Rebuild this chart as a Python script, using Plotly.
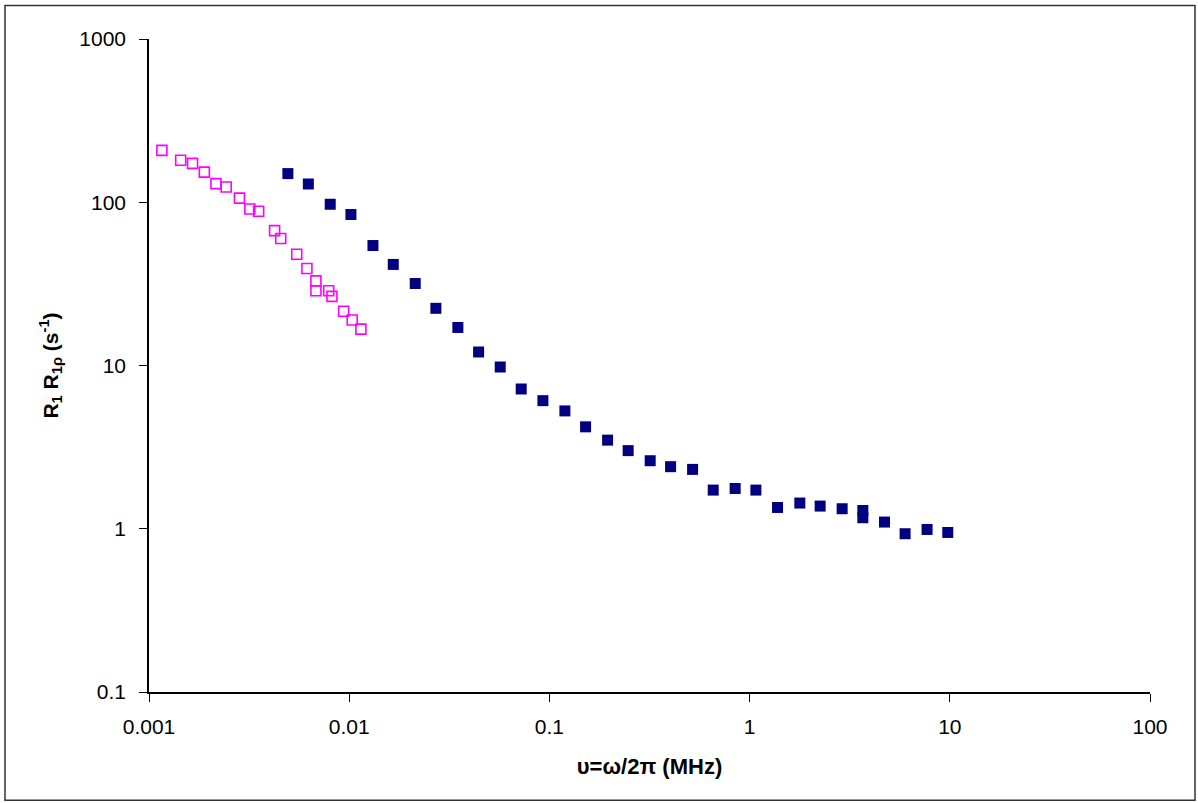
import plotly.graph_objects as go

# Open magenta squares (low-frequency set)
freq_open = [0.00116, 0.00144, 0.00165, 0.00189, 0.00216, 0.00243, 0.00283, 0.00319,
             0.00353, 0.00424, 0.00455, 0.00547, 0.00615, 0.00682, 0.00682, 0.0079,
             0.0082, 0.00938, 0.01035, 0.01144]
rate_open = [208, 181, 173, 153, 130, 124, 106, 91, 88, 67, 60, 48, 39.3, 33.0, 28.7,
             28.7, 26.5, 21.5, 19.0, 16.7]

# Filled navy squares
freq_fill = [0.00494, 0.00625, 0.00804, 0.0102, 0.01314, 0.0166, 0.02137, 0.0271,
             0.0349, 0.0443, 0.0568, 0.0723, 0.0928, 0.1195, 0.1516, 0.1953, 0.2474,
             0.3187, 0.403, 0.519, 0.658, 0.847, 1.075, 1.379, 1.782, 2.251, 2.899,
             3.678, 3.678, 4.72, 5.98, 7.70, 9.77]
rate_fill = [149.8, 129.4, 97.2, 84.1, 54.3, 41.6, 31.8, 22.4, 17.1, 12.1, 9.79, 7.18,
             6.09, 5.27, 4.21, 3.49, 3.01, 2.61, 2.40, 2.31, 1.725, 1.764, 1.725, 1.35,
             1.437, 1.377, 1.326, 1.294, 1.168, 1.099, 0.932, 0.990, 0.949]

x_tickvals = [0.001, 0.01, 0.1, 1, 10, 100]
x_ticktext = ["0.001", "0.01", "0.1", "1", "10", "100"]
y_tickvals = [0.1, 1, 10, 100, 1000]
y_ticktext = ["0.1", "1", "10", "100", "1000"]

FONT = "Arial, 'Liberation Sans', sans-serif"

fig = go.Figure()
fig.add_trace(go.Scatter(
    x=freq_open, y=rate_open, mode="markers",
    marker=dict(symbol="square-open", size=10, color="#FF00FF", line=dict(width=1.6, color="#FF00FF")),
    showlegend=False, cliponaxis=False))
fig.add_trace(go.Scatter(
    x=freq_fill, y=rate_fill, mode="markers",
    marker=dict(symbol="square", size=11, color="#000080", line=dict(width=0)),
    showlegend=False, cliponaxis=False))

W, H = 1198, 803
L, R, T, B = 149, 48, 38.5, 110.5
pw, ph = W - L - R, H - T - B

fig.update_layout(
    width=W, height=H,
    margin=dict(l=L, r=R, t=T, b=B, autoexpand=False),
    paper_bgcolor="white", plot_bgcolor="white",
    font=dict(family=FONT, size=21, color="black"),
    xaxis=dict(type="log", range=[-3, 2], tickvals=x_tickvals, ticktext=x_ticktext,
               showgrid=False, zeroline=False, showline=True, linecolor="black", linewidth=1.5,
               ticks="outside", ticklen=8, tickwidth=1.2, tickcolor="black",
               tickfont=dict(size=21), automargin=False, ticklabelstandoff=7,
               title=dict(text="<b>υ=ω/2π (MHz)</b>", font=dict(size=22), standoff=22)),
    yaxis=dict(type="log", range=[-1, 3], tickvals=y_tickvals, ticktext=y_ticktext,
               showgrid=False, zeroline=False, showline=True, linecolor="black", linewidth=1.5,
               ticks="outside", ticklen=8, tickwidth=1.2, tickcolor="black",
               tickfont=dict(size=21), automargin=False, ticklabelstandoff=9,
               title=dict(text="<b>R<sub>1</sub> R<sub>1ρ</sub> (s<sup>-1</sup>)</b>", font=dict(size=21), standoff=15)),
    shapes=[dict(type="rect", xref="paper", yref="paper",
                 x0=(5 - L) / pw, x1=(1195 - L) / pw,
                 y0=(H - B - 801) / ph, y1=(H - B - 5) / ph,
                 line=dict(color="#333333", width=1.5), fillcolor="rgba(0,0,0,0)", layer="below")],
)

fig.write_html("out.html", config={"displayModeBar": False},
               post_script="document.body.style.margin='0';document.body.style.overflow='hidden';")
